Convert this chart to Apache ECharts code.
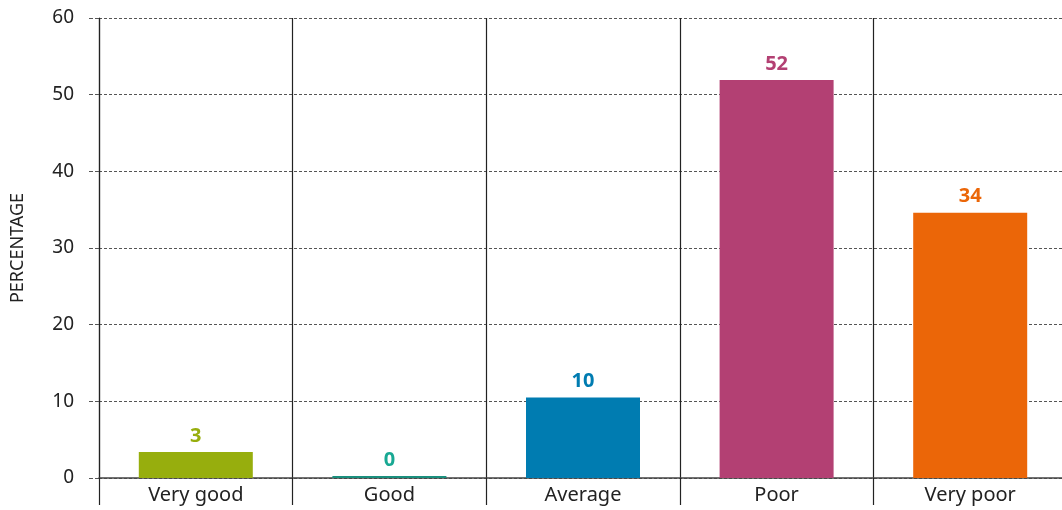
<!DOCTYPE html>
<html>
<head>
<meta charset="utf-8">
<script src="https://cdn.jsdelivr.net/npm/echarts@6/dist/echarts.min.js"></script>
<style>html,body{margin:0;padding:0;background:#fff}#c{width:1062px;height:510px}</style>
</head>
<body>
<div id="c"></div>
<script>
const categories = ["Very good", "Good", "Average", "Poor", "Very poor"];
const values = [3.4, 0, 10.5, 51.9, 34.6];
const valueLabels = ["3", "0", "10", "52", "34"];
const barColors = ["#97ae0d", "#1a8f7d", "#007cb1", "#b34073", "#eb6608"];
const labelColors = ["#97ae0d", "#18a893", "#007cb1", "#b34073", "#eb6608"];
const yTicks = [0, 10, 20, 30, 40, 50, 60];

const chart = echarts.init(document.getElementById('c'), null, {renderer: 'canvas'});
const FONT = '"Noto Sans", "Open Sans", sans-serif';
chart.setOption({
  animation: false,
  grid: {left: 99, right: -5, top: 18, bottom: 32, containLabel: false, outerBoundsMode: 'none'},
  xAxis: {
    type: 'category',
    data: categories,
    axisLine: {show: true, lineStyle: {color: '#444', width: 1.5}},
    axisTick: {show: true, length: 27, alignWithLabel: false, lineStyle: {color: '#222', width: 1.2}},
    axisLabel: {color: '#222', fontSize: 20, fontFamily: FONT, margin: 7},
    splitLine: {show: true, lineStyle: {color: '#222', width: 1.2}}
  },
  yAxis: {
    type: 'value',
    min: yTicks[0],
    max: yTicks[yTicks.length - 1],
    interval: 10,
    name: 'PERCENTAGE',
    nameLocation: 'middle',
    nameGap: 72,
    nameTextStyle: {color: '#222', fontSize: 18, fontFamily: FONT},
    axisLine: {show: true, lineStyle: {color: '#222', width: 1.2}},
    axisTick: {show: true, length: 11, lineStyle: {color: '#555', type: 'dashed', width: 1}},
    axisLabel: {color: '#222', fontSize: 19, fontFamily: FONT, margin: 25},
    splitLine: {show: true, lineStyle: {color: '#555', type: [3, 2], width: 1}}
  },
  series: [{
    type: 'bar',
    barWidth: 114,
    barMinHeight: 2,
    data: values.map((v, i) => ({
      value: v,
      itemStyle: {color: barColors[i]},
      label: {color: labelColors[i]}
    })),
    label: {
      show: true,
      position: 'top',
      distance: 6,
      fontSize: 20,
      fontWeight: 'bold',
      fontFamily: FONT,
      formatter: p => valueLabels[p.dataIndex]
    }
  }]
});
</script>
</body>
</html>
